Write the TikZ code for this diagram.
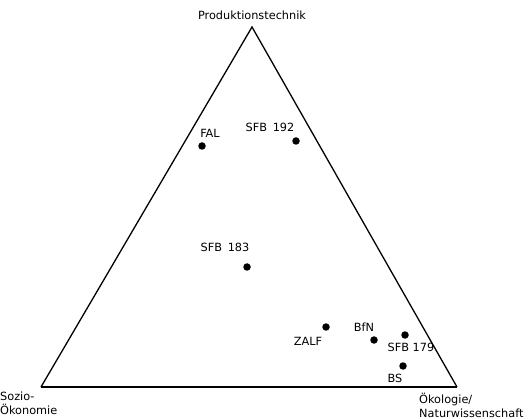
\documentclass[tikz,border=0pt]{standalone}
\usepackage{fontspec}
\setmainfont{DejaVu Sans}
\usepackage{tikz}
\usetikzlibrary{positioning}
\tikzset{
	site/.style={
		circle,
		fill=black,
		inner sep=0pt,
		minimum size=7.5pt,
	},
	lbl/.style={
		inner sep=0pt,
		font={\fontsize{11.3}{13}\selectfont},
	},
	pole/.style={
		inner sep=0pt,
		align=left,
		font={\fontsize{11.3}{13.5}\selectfont},
	},
	side/.style={
		line width=1.3pt,
	},
}

\begin{document}
\begin{tikzpicture}[x=1pt, y=-1pt]
		\useasboundingbox (0,0) rectangle (532,419);

		\coordinate (top) at (252,27);
		\coordinate (left) at (41,387);
		\coordinate (right) at (457,387);

		\draw[side] (left) -- (top) -- (right);
		\draw[side, line width=2pt] (left) -- (right);

		\node(prod)[lbl, above=7pt of top]{Produktionstechnik};
		\node(sozio)[pole, anchor=north west] at (0,392){Sozio-\\Ökonomie};
		\node(oeko)[pole, anchor=north west] at (419,393){Ökologie/\\Naturwissenschaft};

		\node(fal)[site] at (202,146){};
		\node(sfbA)[site] at (296,141){};
		\node(sfbB)[site] at (247,267){};
		\node(zalf)[site] at (326,327){};
		\node(bfn)[site] at (374,340){};
		\node(sfbC)[site] at (405,335){};
		\node(bs)[site] at (403,366){};

		\node(fallbl)[lbl] at ([shift={(8,-13)}]fal){FAL};
		\node(sfbAlbl)[lbl] at ([shift={(-26,-14)}]sfbA){SFB\enspace192};
		\node(sfbBlbl)[lbl] at ([shift={(-22,-20)}]sfbB){SFB\enspace183};
		\node(zalflbl)[lbl] at ([shift={(-18,14)}]zalf){ZALF};
		\node(bfnlbl)[lbl] at ([shift={(-10,-13)}]bfn){BfN};
		\node(sfbClbl)[lbl] at ([shift={(6,12)}]sfbC){SFB 179};
		\node(bslbl)[lbl] at ([shift={(-8,12)}]bs){BS};
\end{tikzpicture}
\end{document}
